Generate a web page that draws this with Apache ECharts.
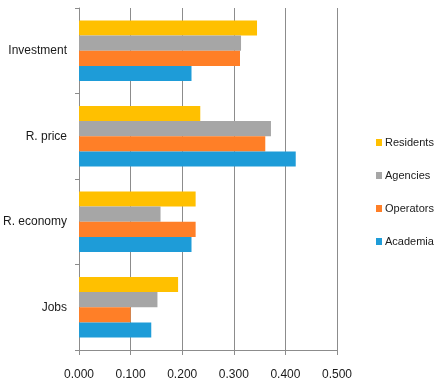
<!DOCTYPE html>
<html>
<head>
<meta charset="utf-8">
<script src="https://cdn.jsdelivr.net/npm/echarts@6/dist/echarts.min.js"></script>
<style>html,body{margin:0;padding:0;background:#fff}#c{width:437px;height:386px}</style>
</head>
<body>
<div id="c"></div>
<script>
var categories = ['Jobs', 'R. economy', 'R. price', 'Investment'];
var academia  = [0.140, 0.218, 0.420, 0.218];
var operators = [0.100, 0.226, 0.361, 0.312];
var agencies  = [0.152, 0.158, 0.372, 0.314];
var residents = [0.192, 0.226, 0.235, 0.345];
var xTicks = [0, 0.1, 0.2, 0.3, 0.4, 0.5];

var chart = echarts.init(document.getElementById('c'));
var font = 'Liberation Sans';
function s(name, data, color) {
  return {name: name, type: 'bar', data: data, barGap: '0%', barCategoryGap: '29%',
    itemStyle: {color: color}, emphasis: {disabled: true}};
}
chart.setOption({
  animation: false,
  textStyle: {fontFamily: font},
  grid: {left: 77, top: 8, width: 260, height: 342, containLabel: false},
  legend: {
    orient: 'vertical', left: 371, top: 132, itemWidth: 6, itemHeight: 7, itemGap: 22,
    icon: 'rect',
    data: ['Residents', 'Agencies', 'Operators', 'Academia'],
    textStyle: {fontFamily: font, fontSize: 11, color: '#1a1a1a', padding: [0, 0, 0, -2]}
  },
  xAxis: {
    type: 'value', min: xTicks[0], max: xTicks[xTicks.length - 1], interval: 0.1,
    axisLine: {show: true, lineStyle: {color: '#8c8c8c'}},
    axisTick: {show: true, length: 5, lineStyle: {color: '#8c8c8c'}},
    splitLine: {show: true, lineStyle: {color: '#8c8c8c'}},
    axisLabel: {margin: 19, fontSize: 12, color: '#1a1a1a', fontFamily: font,
      formatter: function (v) { return v.toFixed(3); }}
  },
  yAxis: {
    type: 'category', data: categories,
    axisLine: {show: true, lineStyle: {color: '#8c8c8c'}},
    axisTick: {show: true, length: 4, lineStyle: {color: '#8c8c8c'}},
    axisLabel: {margin: 12, fontSize: 12, color: '#1a1a1a', fontFamily: font}
  },
  series: [
    s('Residents', residents, '#FFC000'),
    s('Agencies', agencies, '#A6A6A6'),
    s('Operators', operators, '#FF7F27'),
    s('Academia', academia, '#1E9CD8')
  ]
});
</script>
</body>
</html>
